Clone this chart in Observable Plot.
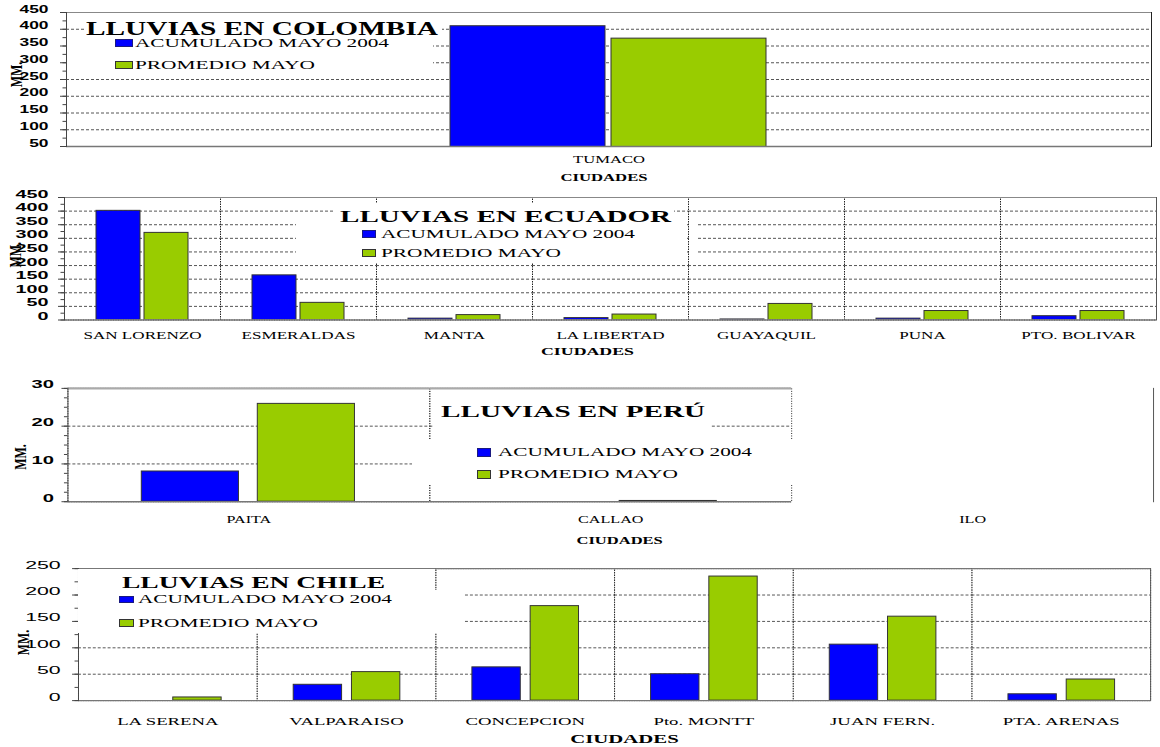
<!DOCTYPE html>
<html>
<head>
<meta charset="utf-8">
<script src="https://cdn.jsdelivr.net/npm/d3@7"></script>
<script src="https://cdn.jsdelivr.net/npm/@observablehq/plot@0.6"></script>
<style>
html, body { margin: 0; padding: 0; background: #fff; overflow: hidden; }
#root { position: relative; width: 1160px; height: 747px; overflow: hidden; background: #fff; }
.panel { position: absolute; left: 0; }
.panel svg { display: block; }
.ov { position: absolute; background: #fff; }
</style>
</head>
<body>
<div id="root"></div>
<script>
// ---------- DATA ----------
const SERIES = ["ACUMULADO MAYO 2004", "PROMEDIO MAYO"];
const COLORS = ["#0000FF", "#99CC00"];
const AXIS_X_LABEL = "CIUDADES";
const AXIS_Y_LABEL = "MM.";

const colombiaTitle = "LLUVIAS EN COLOMBIA";
const colombiaCities = ["TUMACO"];
const colombiaAcumulado = [409];
const colombiaPromedio = [372];
const colombiaTicks = [50, 100, 150, 200, 250, 300, 350, 400, 450];

const ecuadorTitle = "LLUVIAS EN ECUADOR";
const ecuadorCities = ["SAN LORENZO", "ESMERALDAS", "MANTA", "LA LIBERTAD", "GUAYAQUIL", "PUNA", "PTO. BOLIVAR"];
const ecuadorAcumulado = [401, 164, 5, 7, 2, 5, 14];
const ecuadorPromedio = [320, 63, 18, 20, 59, 33, 33];
const ecuadorTicks = [0, 50, 100, 150, 200, 250, 300, 350, 400, 450];

const peruTitle = "LLUVIAS EN PERÚ";
const peruCities = ["PAITA", "CALLAO", "ILO"];
const peruAcumulado = [8, null, null];
const peruPromedio = [25.9, 0.2, null];
const peruTicks = [0, 10, 20, 30];

const chileTitle = "LLUVIAS EN CHILE";
const chileCities = ["LA SERENA", "VALPARAISO", "CONCEPCION", "Pto. MONTT", "JUAN FERN.", "PTA. ARENAS"];
const chileAcumulado = [null, 30, 63, 50, 106, 12];
const chilePromedio = [6, 54, 179, 235, 159, 40];
const chileTicks = [0, 50, 100, 150, 200, 250];

// ---------- LAYOUT ----------
const panels = [
  {
    title: colombiaTitle, cities: colombiaCities, acum: colombiaAcumulado, prom: colombiaPromedio, ticks: colombiaTicks, minorStep: 25,
    top: 0, width: 1160, height: 190, ml: 66, mr: 9, mt: 12, mb: 44, pi: 0.037, po: 2.388,
    yFont: 11, yWeight: "bold", yFamily: "Liberation Sans", yK: 1.58, yPad: 12, yLabelOffset: 45, yLabDy: -5,
    xFont: 10, xK: 1.66, xPad: 16.5, labFont: 10.3, labK: 1.62, xLabelOffset: 34, labDx: -5,
    topColor: "#888", topWidth: 1, rightColor: "#222", dividerDash: null,
    overlay: {
      boxes: [[84, 20, 358, 16], [67, 36, 366, 34]],
      title: {x: 86, cy: 29, w: 352, fs: 18.5},
      legend: {sqX: 114.5, sqW: 18, sqH: 8, tx: 135, tw: 254, cy: [43, 65], fs: 12.5}
    }
  },
  {
    title: ecuadorTitle, cities: ecuadorCities, acum: ecuadorAcumulado, prom: ecuadorPromedio, ticks: ecuadorTicks, minorStep: 25,
    top: 190, width: 1160, height: 170, ml: 64, mr: 4, mt: 7, mb: 40.5, pi: 0.0825, po: 0.649,
    yFont: 11, yWeight: "bold", yFamily: "Liberation Sans", yK: 1.8, yPad: 10, yLabelOffset: 44, yLabDy: -4,
    xFont: 10.3, xK: 1.66, xPad: 19, labFont: 11, labK: 1.62, xLabelOffset: 34.5, labDx: -23,
    topColor: "#888", topWidth: 1, rightColor: "#555", dividerDash: "1,1.5",
    overlay: {
      boxes: [[333, 203, 341, 15], [296, 218, 390, 45], [689, 218, 9, 45]],
      title: {x: 339.6, cy: 217, w: 331, fs: 16},
      legend: {sqX: 362, sqW: 13.5, sqH: 7.7, tx: 381, tw: 254, cy: [234, 253], fs: 12.5}
    }
  },
  {
    title: peruTitle, cities: peruCities, acum: peruAcumulado, prom: peruPromedio, ticks: peruTicks, minorStep: 2.5,
    top: 375, width: 1170, height: 175, ml: 67.5, mr: 7, mt: 13, mb: 47.7, pi: 0.162, po: 0.636,
    yFont: 11, yWeight: "bold", yFamily: "Liberation Sans", yK: 1.85, yPad: 8, yLabelOffset: 42.5, yLabDy: 12,
    xFont: 10, xK: 1.63, xPad: 21.5, labFont: 10.3, labK: 1.62, xLabelOffset: 43, labDx: 9,
    topColor: "#aaa", topWidth: 2.5, rightColor: "#555", dividerDash: "1,1.5",
    overlay: {
      boxes: [[433, 396, 277, 42], [412, 440, 405, 44]],
      title: {x: 441, cy: 412, w: 264, fs: 17.5},
      legend: {sqX: 477, sqW: 14, sqH: 8.5, tx: 498, tw: 254, cy: [452.7, 474.3], fs: 12.5}
    }
  },
  {
    title: chileTitle, cities: chileCities, acum: chileAcumulado, prom: chilePromedio, ticks: chileTicks, minorStep: 25,
    top: 555, width: 1175, height: 192, ml: 77, mr: 8, mt: 13.3, mb: 45, pi: 0.174, po: 0.619,
    yFont: 12, yWeight: "normal", yFamily: "Liberation Sans", yK: 1.8, yPad: 12, yLabelOffset: 50, yLabDy: 8,
    xFont: 11.5, xK: 1.65, xPad: 25, labFont: 13, labK: 1.62, xLabelOffset: 42.5, labDx: 10,
    topColor: "#777", topWidth: 1.5, rightColor: "#555", dividerDash: "1,1.5",
    overlay: {
      boxes: [[78, 569, 357, 21], [78, 590, 385, 43]],
      title: {x: 121.7, cy: 583, w: 263, fs: 16},
      legend: {sqX: 118.6, sqW: 15.4, sqH: 7.6, tx: 137.8, tw: 254, cy: [599.5, 623], fs: 12.5}
    }
  }
];

// ---------- HELPERS ----------
function styleTexts(svg, aria, {size, weight, family, k = 1, ky = 1, dx = 0, dy = 0}) {
  svg.querySelectorAll(`g[aria-label="${aria}"] text`).forEach(t => {
    if (size) t.setAttribute("font-size", size);
    if (weight) t.setAttribute("font-weight", weight);
    if (family) t.setAttribute("font-family", family);
    t.style.fontFamily = family ? `"${family}"` : "";
    let tr = t.getAttribute("transform") || "";
    const x = t.getAttribute("x"), y = t.getAttribute("y");
    if (x != null || y != null) {
      tr += ` translate(${+x || 0},${+y || 0})`;
      t.removeAttribute("x");
      t.removeAttribute("y");
    }
    if (dx || dy) tr = `translate(${dx},${dy}) ` + tr;
    if (k !== 1 || ky !== 1) tr += ` scale(${k},${ky})`;
    t.setAttribute("transform", tr.trim());
  });
}

function fitText(root, text, x, cy, w, fs, bold) {
  const s = document.createElement("div");
  s.textContent = text;
  s.style.cssText = `position:absolute;left:${x}px;top:${cy - fs * 0.51}px;font-family:"Liberation Serif";font-size:${fs}px;font-weight:${bold ? "bold" : "normal"};line-height:1;white-space:nowrap;transform-origin:0 0;color:#000;`;
  root.appendChild(s);
  const nat = s.getBoundingClientRect().width;
  s.style.transform = `scaleX(${w / nat})`;
}

function buildPanel(root, cfg) {
  const rows = [];
  cfg.cities.forEach((city, i) => {
    [cfg.acum[i], cfg.prom[i]].forEach((v, j) => {
      if (v != null) rows.push({city, serie: SERIES[j], mm: v});
    });
  });
  const ticks = cfg.ticks;
  const lo = ticks[0], hi = ticks[ticks.length - 1];
  const minor = d3.range(lo, hi + cfg.minorStep / 2, cfg.minorStep);

  const svg = Plot.plot({
    width: cfg.width,
    height: cfg.height,
    marginLeft: cfg.ml, marginRight: cfg.mr, marginTop: cfg.mt, marginBottom: cfg.mb,
    style: {background: "transparent", overflow: "visible", fontFamily: "Liberation Serif", color: "#000"},
    fx: {domain: cfg.cities, padding: 0},
    x: {domain: SERIES, paddingInner: cfg.pi, paddingOuter: cfg.po, axis: null},
    y: {domain: [lo, hi]},
    color: {domain: SERIES, range: COLORS},
    marks: [
      Plot.ruleY(ticks.slice(1, -1), {stroke: "#555", strokeWidth: 1, strokeDasharray: "3,2"}),
      cfg.dividerDash ? Plot.frame({stroke: "#222", strokeDasharray: cfg.dividerDash}) : null,
      Plot.barY(rows, {fx: "city", x: "serie", y: "mm", fill: "serie", stroke: "#333", strokeWidth: 1, clip: true}),
      Plot.ruleY([hi], {stroke: cfg.topColor, strokeWidth: cfg.topWidth}),
      Plot.ruleY([lo], {stroke: "#777", strokeWidth: 1.5}),
      Plot.frame({anchor: "left", facetAnchor: "left", stroke: "#444"}),
      Plot.frame({anchor: "right", facetAnchor: "right", stroke: cfg.rightColor}),
      Plot.axisY(minor, {anchor: "left", tickSize: 3.5, tickFormat: () => "", label: null, stroke: "#444"}),
      Plot.axisY(ticks, {anchor: "left", tickSize: 6, tickPadding: cfg.yPad, stroke: "#444",
        label: AXIS_Y_LABEL, labelAnchor: "center", labelOffset: cfg.yLabelOffset, labelArrow: "none"}),
      Plot.axisFx({anchor: "bottom", tickSize: 0, tickPadding: cfg.xPad,
        label: AXIS_X_LABEL, labelAnchor: "center", labelOffset: cfg.xLabelOffset, labelArrow: "none"})
    ].filter(Boolean)
  });

  styleTexts(svg, "y-axis tick label", {size: cfg.yFont, weight: cfg.yWeight, family: cfg.yFamily, k: cfg.yK});
  styleTexts(svg, "fx-axis tick label", {size: cfg.xFont, family: "Liberation Serif", k: cfg.xK});
  styleTexts(svg, "fx-axis label", {size: cfg.labFont, weight: "bold", family: "Liberation Serif", k: cfg.labK, dx: cfg.labDx});
  styleTexts(svg, "y-axis label", {size: 12, weight: "bold", family: "Liberation Serif", ky: 1.4, dy: cfg.yLabDy});

  const div = document.createElement("div");
  div.className = "panel";
  div.style.top = cfg.top + "px";
  div.appendChild(svg);
  root.appendChild(div);
}

function buildOverlay(root, cfg) {
  const o = cfg.overlay;
  o.boxes.forEach(([x, y, w, h]) => {
    const d = document.createElement("div");
    d.className = "ov";
    Object.assign(d.style, {left: x + "px", top: y + "px", width: w + "px", height: h + "px"});
    root.appendChild(d);
  });
  fitText(root, cfg.title, o.title.x, o.title.cy, o.title.w, o.title.fs, true);
  const L = o.legend;
  SERIES.forEach((name, j) => {
    const sq = document.createElement("div");
    sq.style.cssText = `position:absolute;left:${L.sqX}px;top:${L.cy[j] - L.sqH / 2}px;width:${L.sqW}px;height:${L.sqH}px;background:${COLORS[j]};border:1px solid ${j ? "#333" : "#1a1a80"};box-sizing:border-box;`;
    root.appendChild(sq);
    fitText(root, name, L.tx, L.cy[j], j ? L.tw * 180 / 254 : L.tw, L.fs, false);
  });
}

const root = document.getElementById("root");
panels.forEach(p => buildPanel(root, p));
panels.forEach(p => buildOverlay(root, p));
</script>
</body>
</html>
